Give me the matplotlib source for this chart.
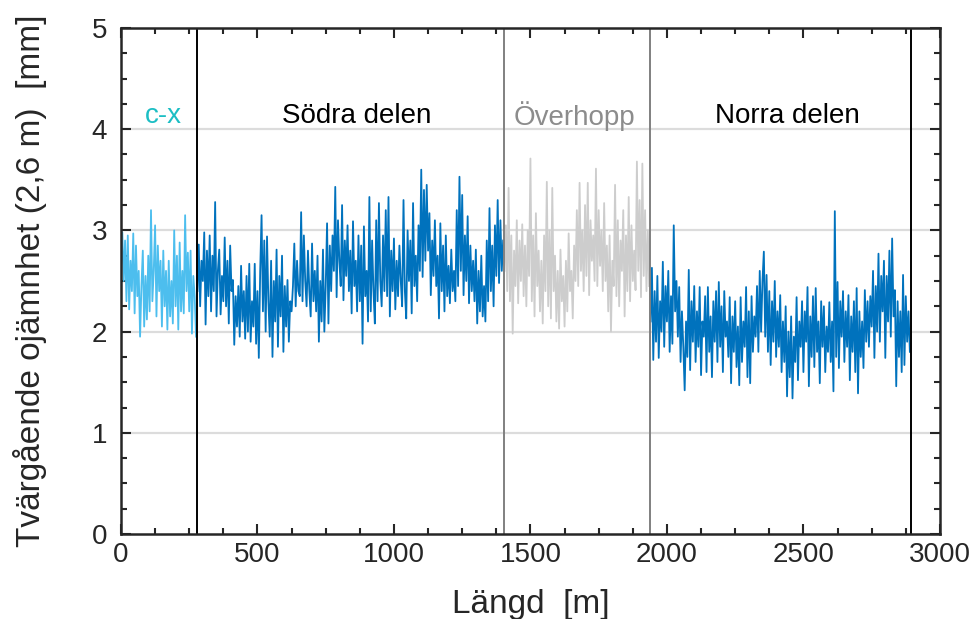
import numpy as np
import matplotlib
matplotlib.use('Agg')
import matplotlib.pyplot as plt
from matplotlib.ticker import MultipleLocator

plt.rcParams['font.family'] = ['Liberation Sans', 'DejaVu Sans']

# transverse unevenness (2,6 m) [mm], read every 5 m
step = 5

cx_start = 0
cx_vals = [2.62, 2.98, 2.50, 2.90, 2.30, 2.95, 2.22, 2.70, 2.40, 2.97,
           2.18, 2.85, 2.35, 2.60, 1.95, 2.45, 2.80, 2.05, 2.55, 2.12,
           2.75, 2.20, 3.20, 2.30, 2.60, 3.05, 2.15, 2.85, 2.40, 2.70,
           2.05, 2.80, 2.25, 2.60, 2.02, 2.70, 2.15, 2.50, 2.08, 3.00,
           2.25, 2.75, 2.02, 2.88, 2.20, 2.60, 2.18, 3.15, 2.40, 2.78,
           2.20, 2.80, 1.98, 2.55, 2.35, 1.95]

sodra_start = 280
sodra_vals = [2.40, 2.86, 2.25, 2.70, 2.50, 2.98, 2.07, 2.80, 2.35, 2.95,
              2.20, 2.75, 2.40, 3.28, 2.15, 2.60, 2.81, 2.17, 2.55, 2.30,
              2.93, 2.25, 2.70, 2.08, 2.85, 2.40, 2.51, 1.87, 2.35, 2.05,
              2.45, 1.95, 2.65, 2.10, 2.40, 1.93, 2.55, 2.00, 2.67, 1.90,
              2.30, 2.05, 2.67, 1.88, 2.40, 1.74, 2.60, 3.15, 2.20, 2.90,
              2.00, 2.94, 2.30, 1.95, 2.70, 1.75, 2.50, 2.10, 2.81, 1.85,
              2.55, 2.15, 2.75, 1.80, 2.45, 2.05, 2.51, 1.90, 2.30, 2.20,
              2.45, 2.87, 2.25, 2.70, 2.40, 2.35, 3.18, 2.30, 2.95, 2.50,
              2.25, 2.80, 2.40, 2.15, 2.87, 2.30, 2.60, 2.20, 2.75, 1.90,
              2.50, 2.10, 2.81, 2.00, 2.45, 3.07, 2.08, 2.85, 2.40, 2.95,
              2.60, 3.43, 2.34, 3.10, 2.70, 2.45, 3.25, 2.31, 2.90, 2.55,
              3.05, 2.40, 2.80, 2.18, 3.09, 2.45, 2.70, 2.20, 2.95, 2.30,
              2.85, 1.88, 3.04, 2.35, 2.60, 2.10, 3.33, 2.20, 2.90, 2.40,
              2.08, 3.10, 2.30, 3.27, 2.50, 2.25, 2.95, 2.40, 3.20, 2.35,
              3.33, 2.15, 2.80, 2.40, 2.92, 2.22, 2.70, 2.35, 2.85, 2.50,
              2.25, 3.30, 2.40, 2.13, 3.00, 2.50, 2.90, 2.18, 3.27, 2.45,
              2.75, 2.30, 3.05, 2.60, 3.60, 2.54, 3.40, 2.70, 3.45, 2.80,
              3.17, 2.36, 2.90, 2.55, 3.10, 2.45, 2.75, 2.13, 3.07, 2.40,
              2.85, 2.20, 2.95, 2.35, 2.65, 2.28, 2.81, 2.40, 2.60, 2.30,
              3.20, 2.45, 3.53, 2.60, 3.35, 2.36, 2.95, 2.50, 3.14, 2.28,
              2.85, 2.40, 2.70, 2.30, 2.81, 2.08, 2.60, 2.20, 2.75, 2.15,
              2.45, 2.10, 2.90, 2.30, 3.22, 2.40, 2.85, 2.25, 3.05, 2.55,
              3.30, 2.48, 3.10, 2.60, 2.90]

hopp_start = 1405
hopp_vals = [2.60, 3.05, 2.40, 3.42, 2.30, 2.95, 1.98, 2.80, 2.45, 3.10,
             2.28, 2.90, 2.50, 3.06, 2.35, 2.85, 2.25, 3.00, 2.55, 3.71,
             2.30, 2.95, 2.15, 3.17, 2.45, 2.80, 2.20, 2.70, 2.08, 2.95,
             2.40, 3.48, 2.25, 3.00, 2.13, 3.42, 2.40, 2.75, 2.10, 2.60,
             2.03, 2.81, 2.30, 2.55, 2.05, 2.70, 2.20, 2.97, 2.40, 2.60,
             2.13, 2.85, 2.50, 3.20, 2.45, 3.47, 2.60, 3.00, 2.40, 3.25,
             2.55, 3.47, 2.36, 3.10, 2.70, 2.95, 2.50, 3.61, 2.45, 3.20,
             2.65, 3.00, 2.40, 3.27, 2.50, 2.85, 2.20, 2.95, 2.00, 2.70,
             2.45, 3.45, 2.35, 3.10, 2.25, 2.90, 2.60, 3.20, 2.15, 2.95,
             2.40, 3.33, 2.30, 3.05, 2.50, 2.80, 2.41, 3.68, 2.60, 3.30,
             2.34, 3.66, 2.55, 3.20, 2.40, 3.00, 2.45]

norra_start = 1940
norra_vals = [2.10, 2.63, 1.72, 2.40, 1.90, 2.55, 1.74, 2.30, 2.00, 2.69,
              1.85, 2.45, 2.10, 2.60, 1.80, 2.35, 1.88, 3.05, 2.20, 2.50,
              1.95, 2.44, 1.70, 2.20, 1.85, 1.42, 2.10, 1.75, 2.61, 1.62,
              2.30, 1.90, 2.45, 1.70, 2.20, 1.85, 2.44, 1.57, 2.10, 1.95,
              2.35, 1.60, 2.44, 1.80, 2.15, 1.55, 2.30, 1.90, 2.40, 1.70,
              2.49, 1.85, 2.25, 1.60, 2.40, 1.95, 2.10, 1.75, 2.34, 1.49,
              2.15, 1.80, 2.30, 1.65, 2.05, 1.47, 2.34, 1.70, 2.10, 1.85,
              2.44, 1.55, 2.20, 1.49, 2.35, 1.80, 2.15, 1.95, 2.45, 1.80,
              2.60, 2.00, 2.50, 2.79, 1.95, 2.56, 1.80, 2.40, 1.67, 2.30,
              1.90, 2.50, 1.75, 2.20, 1.85, 2.36, 1.60, 2.10, 1.70, 2.25,
              1.36, 2.00, 1.55, 2.15, 1.34, 1.95, 1.70, 2.34, 1.52, 2.10,
              1.85, 2.30, 1.60, 2.20, 1.90, 2.44, 1.46, 2.15, 1.75, 2.35,
              1.65, 2.43, 1.80, 2.10, 1.49, 2.30, 1.85, 2.25, 1.60, 2.05,
              1.80, 2.29, 1.70, 2.10, 1.41, 3.19, 1.75, 2.49, 1.64, 2.30,
              1.95, 2.40, 1.70, 2.20, 1.85, 2.36, 1.52, 2.15, 1.80, 2.30,
              1.60, 2.43, 1.39, 2.20, 1.75, 2.10, 1.64, 2.41, 1.90, 2.30,
              1.85, 2.35, 2.05, 2.60, 1.74, 2.45, 2.00, 2.77, 1.90, 2.55,
              2.20, 2.70, 1.74, 2.55, 2.10, 2.80, 1.95, 2.92, 2.15, 2.41,
              1.46, 2.30, 1.75, 2.20, 1.60, 2.56, 1.67, 2.35, 1.90, 2.20,
              1.80]

# section borders [m]
borders = [278, 1403, 1938, 2894]
border_colors = ['black', '#808080', '#808080', 'black']

labels = ['c-x', 'Södra delen', 'Överhopp', 'Norra delen']
label_x = [155, 865, 1663, 2440]
label_colors = ['#1CBEC4', 'black', '#8C8C8C', 'black']

def xs(start, vals):
    return start + step * np.arange(len(vals))

fig = plt.figure(figsize=(9.74, 6.19), dpi=100)
ax = fig.add_axes([0.1242, 0.1373, 0.8408, 0.8175])

for yv in [1, 2, 3, 4]:
    ax.axhline(yv, color='#DCDCDC', lw=1.6, zorder=0)

ax.plot(xs(cx_start, cx_vals), cx_vals, color='#4DBEEE', lw=1.3)
ax.plot(xs(sodra_start, sodra_vals), sodra_vals, color='#0072BD', lw=1.3)
ax.plot(xs(hopp_start, hopp_vals), hopp_vals, color='#CDCDCD', lw=1.3)
ax.plot(xs(norra_start, norra_vals), norra_vals, color='#0072BD', lw=1.3)

for b, c in zip(borders, border_colors):
    ax.axvline(b, color=c, lw=1.4)

for t, x, c in zip(labels, label_x, label_colors):
    ax.text(x, 4.13, t, color=c, fontsize=20, ha='center', va='center')

ax.set_xlim(0, 3000)
ax.set_ylim(0, 5)
ax.xaxis.set_major_locator(MultipleLocator(500))
ax.xaxis.set_minor_locator(MultipleLocator(125))
ax.yaxis.set_major_locator(MultipleLocator(1))
ax.yaxis.set_minor_locator(MultipleLocator(0.25))
ax.tick_params(which='both', direction='in', top=True, right=True,
               colors='#262626', width=1.5, labelsize=20)
ax.tick_params(which='major', length=7)
ax.tick_params(which='minor', length=4)
ax.tick_params(axis='x', which='major', pad=6)
ax.tick_params(axis='y', which='major', pad=10)
for s in ax.spines.values():
    s.set_linewidth(1.8)
    s.set_color('#262626')

ax.set_xlabel('Längd  [m]', fontsize=24, color='#262626', labelpad=15)
ax.set_ylabel('Tvärgående ojämnhet (2,6 m)  [mm]', fontsize=24, color='#262626', labelpad=32)

fig.savefig('out.png', dpi=100)
